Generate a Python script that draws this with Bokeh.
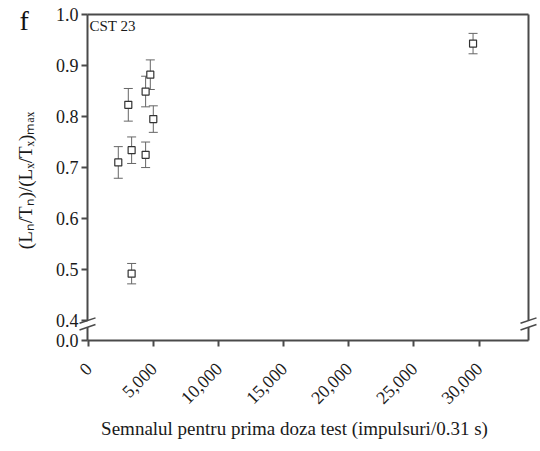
import math
from bokeh.plotting import figure
from bokeh.models import (Range1d, FixedTicker, NumeralTickFormatter, CustomJSTickFormatter,
                          ColumnDataSource, Whisker, TeeHead, Label, Arrow)
from bokeh.embed import file_html
from bokeh.resources import INLINE

# ---- data ----
signal = [2285, 3310, 3055, 4385, 4745, 4975, 4385, 3310, 29540]
ratio = [0.710, 0.734, 0.823, 0.849, 0.882, 0.795, 0.725, 0.492, 0.943]
err = [0.031, 0.026, 0.032, 0.030, 0.029, 0.026, 0.025, 0.020, 0.020]
x_ticks = [0, 5000, 10000, 15000, 20000, 25000, 30000]
y_ticks = [0.4, 0.5, 0.6, 0.7, 0.8, 0.9, 1.0]
sample_name = "CST 23"
panel_letter = "f"
x_label = "Semnalul pentru prima doza test (impulsuri/0.31 s)"
y_label = "(Lₙ/Tₙ)/(Lₓ/Tₓ)ₘₐₓ"

# ---- layout ----
W, H = 540, 451
FL, FR, FT, FB = 87, 528, 14, 340      # box of the axes, in pixels from top-left
X0, X1 = -80, 33800
Y0, Y1 = 0.361, 1.0                    # 0.361 on the scale is the broken-axis "0.0"
px_x = (X1 - X0) / (FR - FL)
px_y = (Y1 - Y0) / (FB - FT)
FONT = "Liberation Serif"
AX = "#4a4a4a"
TXT = "#1a1a1a"

p = figure(width=W, height=H, output_backend="svg", toolbar_location=None,
           x_range=Range1d(X0 - FL * px_x, X1 + (W - FR) * px_x),
           y_range=Range1d(Y0 - (H - FB) * px_y, Y1 + FT * px_y),
           min_border=0)
p.grid.visible = False
p.outline_line_color = None
p.background_fill_color = "white"
p.border_fill_color = "white"

# axes, pinned to the box edges
xa, ya = p.xaxis[0], p.yaxis[0]
xa.fixed_location = Y0
ya.fixed_location = X0
xa.ticker = FixedTicker(ticks=x_ticks)
xa.formatter = NumeralTickFormatter(format="0,0")
xa.major_label_orientation = math.pi / 4
ya.ticker = FixedTicker(ticks=[Y0] + y_ticks)
ya.formatter = CustomJSTickFormatter(code="return tick < 0.39 ? '0.0' : tick.toFixed(1);")
for a in (xa, ya):
    a.axis_line_color = None
    a.major_tick_line_color = AX
    a.major_tick_line_width = 2
    a.major_tick_out = 6
    a.major_tick_in = 0
    a.minor_tick_line_color = None
    a.major_label_text_font = FONT
    a.major_label_text_font_size = "18px"
    a.major_label_text_color = TXT
xa.major_label_standoff = 19
ya.major_label_standoff = 3

# box with axis breaks
b_hi, b_lo = 0.400, 0.387
frame = dict(
    x_start=[X0, X0, X0, X0, X1, X1],
    y_start=[Y0, Y1, Y0, b_hi, Y0, b_hi],
    x_end=[X1, X1, X0, X0, X1, X1],
    y_end=[Y0, Y1, b_lo, Y1, b_lo, Y1],
)
p.add_layout(Arrow(source=ColumnDataSource(frame), start=None, end=None,
                   x_start="x_start", y_start="y_start", x_end="x_end", y_end="y_end",
                   line_color=AX, line_width=2))
sx, sy = 8 * px_x, 2.7 * px_y
brk = dict(x_start=[], y_start=[], x_end=[], y_end=[])
for xc in (X0, X1):
    for yc in (b_hi, b_lo):
        brk["x_start"].append(xc - sx)
        brk["y_start"].append(yc - sy)
        brk["x_end"].append(xc + sx)
        brk["y_end"].append(yc + sy)
p.add_layout(Arrow(source=ColumnDataSource(brk), start=None, end=None,
                   x_start="x_start", y_start="y_start", x_end="x_end", y_end="y_end",
                   line_color=AX, line_width=1.5))

# data
src = ColumnDataSource(dict(x=signal, y=ratio,
                            lo=[r - e for r, e in zip(ratio, err)],
                            hi=[r + e for r, e in zip(ratio, err)]))
p.add_layout(Whisker(source=src, base="x", lower="lo", upper="hi", dimension="height",
                     line_color="#666666", line_width=1,
                     lower_head=TeeHead(size=9, line_color="#666666", line_width=1),
                     upper_head=TeeHead(size=9, line_color="#666666", line_width=1)))
p.scatter("x", "y", source=src, marker="square", size=7, fill_color="white",
          line_color="#333333", line_width=1.2)

# texts (screen units: pixels from the bottom-left corner)
p.add_layout(Label(x=X0 + 2 * px_x, y=Y1 - 3 * px_y, text=sample_name, text_font=FONT,
                   text_font_size="15px", text_color=TXT, text_baseline="top"))
p.add_layout(Label(x=19, y=H - 35, x_units="screen", y_units="screen", text=panel_letter,
                   text_font=FONT, text_font_size="28px", text_color="#111111",
                   text_baseline="bottom"))
p.add_layout(Label(x=294, y=H - 428, x_units="screen", y_units="screen", text=x_label,
                   text_font=FONT, text_font_size="19px", text_color=TXT,
                   text_align="center", text_baseline="alphabetic"))
p.add_layout(Label(x=25, y=H - 180, x_units="screen", y_units="screen", text=y_label,
                   angle=math.pi / 2, text_font=FONT, text_font_size="19px", text_color=TXT,
                   text_align="center", text_baseline="middle"))

open("out.html", "w").write(file_html(p, INLINE))
